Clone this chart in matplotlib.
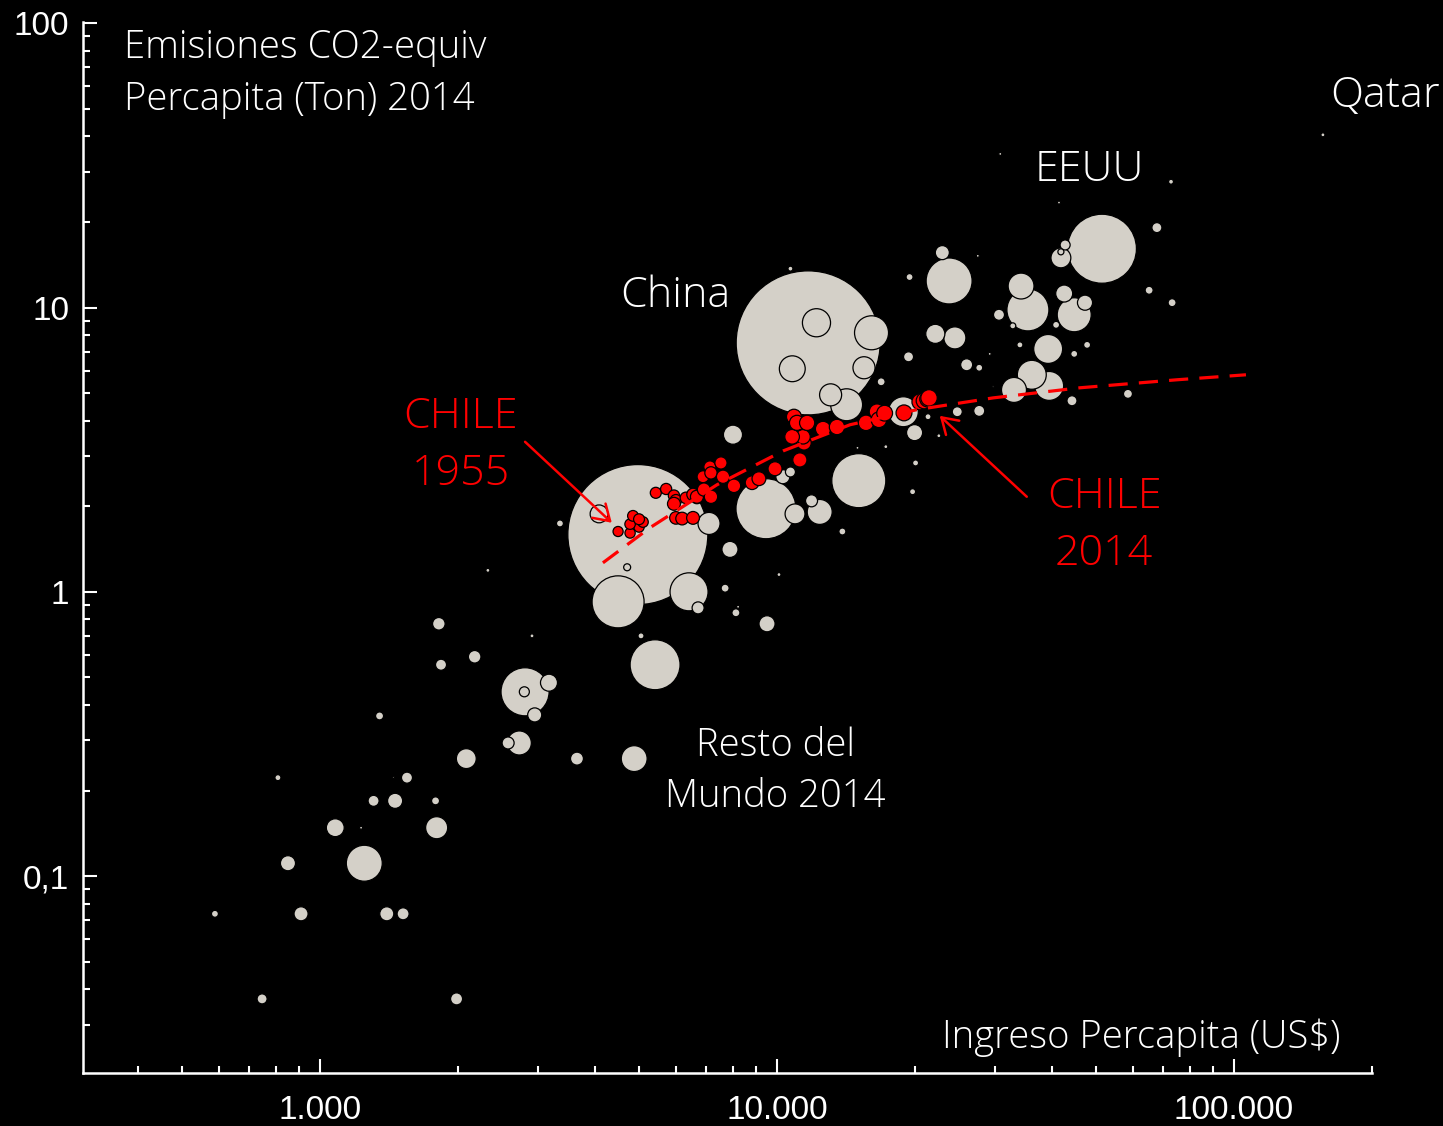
import numpy as np
import matplotlib
matplotlib.use("Agg")
import matplotlib.pyplot as plt
from matplotlib.ticker import FixedLocator, FixedFormatter, NullFormatter, LogLocator

# Resto del mundo 2014: ingreso per capita (US$), CO2-eq per capita (ton), poblacion (millones)
gdp = [11700, 4960, 51400, 9460, 15100, 4490, 5410, 2810, 23800, 35400,
       6420, 1250, 16100, 44700, 14200, 18900, 39200, 36100, 39400, 12200,
       10800, 4870, 34200, 33000, 12400, 2730, 7100, 1800, 24500, 15500,
       13100, 41800, 10950, 2090, 8010, 22200, 4080, 1080, 3170, 42500,
       20000, 7890, 9510, 1460, 851, 47200, 2950, 909, 1400, 10300,
       23000, 2180, 1820, 1990, 1520, 2580, 11900, 6720, 3650, 27700,
       30600, 26000, 1550, 1310, 1840, 42700, 67800, 24800, 44200, 19400,
       747, 2800, 58600, 10700, 13900, 1350, 1790, 7700, 8130, 16900,
       65200, 73200, 44700, 40800, 47700, 19500, 3350, 589, 4700, 27700,
       5040, 20100, 19800, 34000, 21400, 809, 32800, 41800, 10700, 72800,
       2910, 2330, 10100, 22600, 156500, 17300, 30800, 27500, 41400, 29200,
       1230, 8220, 1450, 91800, 29700, 15000]
co2 = [7.51, 1.59, 16.1, 1.96, 2.46, 0.922, 0.554, 0.445, 12.4, 9.81,
       1.0, 0.111, 8.15, 9.43, 4.55, 4.30, 7.15, 5.80, 5.30, 8.84,
       6.09, 0.259, 11.9, 5.13, 1.91, 0.294, 1.74, 0.148, 7.82, 6.14,
       4.93, 14.95, 1.88, 0.259, 3.57, 8.08, 1.88, 0.148, 0.479, 11.2,
       3.63, 1.41, 0.772, 0.184, 0.111, 10.4, 0.369, 0.0737, 0.0737, 2.54,
       15.6, 0.591, 0.772, 0.0370, 0.0737, 0.294, 2.09, 0.878, 0.259, 4.33,
       9.43, 6.29, 0.222, 0.184, 0.554, 16.6, 19.1, 4.30, 4.70, 6.71,
       0.0370, 0.445, 4.97, 2.64, 1.63, 0.366, 0.184, 1.03, 0.844, 5.48,
       11.5, 10.4, 6.87, 8.69, 7.39, 12.8, 1.74, 0.0737, 1.22, 6.14,
       0.700, 2.84, 2.25, 7.39, 4.13, 0.222, 8.62, 15.7, 13.7, 27.7,
       0.700, 1.19, 1.15, 3.54, 40.5, 3.24, 34.7, 15.2, 23.4, 6.87,
       0.148, 0.886, 0.222, 18.6, 5.26, 3.21]
pop = [1364, 1289, 313, 237, 192, 178, 164, 152, 139, 116,
       95, 85, 76, 76, 67, 59, 55, 55, 55, 52,
       44, 44, 44, 41, 41, 38, 32, 32, 32, 32,
       32, 26, 26, 26, 24, 24, 21, 21, 19, 19,
       17, 17, 17, 15, 15, 15, 13, 13, 13, 13,
       13, 10.4, 10.4, 9.5, 9.5, 9.5, 9.5, 9.5, 11, 8,
       8, 9.5, 8, 8, 8, 6.6, 6.6, 6.6, 6.6, 6.6,
       6.6, 6.6, 5.3, 6.6, 3.2, 4.2, 4.2, 4.2, 4.2, 4.2,
       4.2, 4.2, 3.2, 3.2, 3.2, 3.2, 3.2, 3.2, 3.2, 3.2,
       2.4, 2.4, 2.4, 2.4, 2.4, 2.4, 2.4, 2.4, 1.6, 1.6,
       1.05, 1.05, 1.05, 1.05, 1.05, 1.05, 0.6, 0.6, 0.6, 0.6,
       0.6, 0.6, 0.26, 0.17, 0.26, 0.6]

# Chile 1955 -> 2014
chile_gdp = [4490, 4770, 4990, 4770, 5090, 4840, 4990, 5430, 5720, 5950,
             6010, 6320, 6680, 6920, 6890, 7130, 7540, 7170, 6550, 6010,
             6200, 6550, 5950, 6680, 6920, 7620, 7170, 8050, 8820, 9130,
             9900, 11220, 11460, 11400, 10790, 11110, 10890, 11060, 11640, 12610,
             13530, 15660, 16550, 16710, 17200, 18960, 20550, 21000, 21390, 21510]
chile_co2 = [1.63, 1.61, 1.69, 1.73, 1.76, 1.85, 1.80, 2.23, 2.30, 2.18,
             2.10, 2.14, 2.14, 2.29, 2.54, 2.75, 2.84, 2.62, 2.20, 1.82,
             1.81, 1.82, 2.04, 2.16, 2.29, 2.54, 2.16, 2.36, 2.42, 2.50,
             2.71, 2.91, 3.34, 3.51, 3.51, 3.93, 4.13, 3.93, 3.93, 3.74,
             3.80, 3.93, 4.30, 4.03, 4.25, 4.26, 4.66, 4.70, 4.77, 4.81]
chile_pop = [6.7, 6.9, 7.0, 7.2, 7.4, 7.6, 7.8, 8.0, 8.2, 8.4,
             8.6, 8.8, 9.0, 9.2, 9.4, 9.6, 9.8, 10.0, 10.2, 10.4,
             10.6, 10.8, 11.0, 11.2, 11.4, 11.6, 11.8, 12.0, 12.3, 12.6,
             12.9, 13.2, 13.5, 13.8, 14.1, 14.4, 14.7, 15.0, 15.2, 15.4,
             15.6, 15.8, 16.0, 16.2, 16.4, 16.6, 16.9, 17.2, 17.5, 17.8]

# tendencia (linea punteada)
trend_gdp = [4160, 5270, 7390, 10310, 14450, 20200, 29700, 46000, 75000, 106200]
trend_co2 = [1.265, 1.68, 2.38, 3.13, 3.87, 4.37, 4.81, 5.22, 5.57, 5.80]

x_ticks = [1000, 10000, 100000]
x_labels = ["1.000", "10.000", "100.000"]
y_ticks = [0.1, 1, 10, 100]
y_labels = ["0,1", "1", "10", "100"]

W, H = 1443, 1126
fig = plt.figure(figsize=(W / 100, H / 100), dpi=100, facecolor="black")
ax = fig.add_axes([83 / W, 1 - 1073 / H, (1372 - 83) / W, (1073 - 22) / H])
ax.set_facecolor("black")
ax.set_xscale("log")
ax.set_yscale("log")
ax.set_xlim(303, 200400)
ax.set_ylim(0.0203, 101)

# tamaño de burbuja proporcional a la poblacion (China ~ 72 px de radio)
k = (2 * 72 * 0.72) ** 2 / 1364

order = np.argsort(pop)[::-1]
g = np.array(gdp)[order]
c = np.array(co2)[order]
p = np.array(pop)[order]
ax.scatter(g, c, s=p * k, color="#d4d0c8", edgecolors="black", linewidths=0.9, zorder=2)

ax.scatter(chile_gdp, chile_co2, s=np.array(chile_pop) * k, color="#ff0000",
           edgecolors="black", linewidths=0.9, zorder=3)

ax.plot(trend_gdp, trend_co2, color="#ff0000", lw=2.3, dashes=(6, 3.5), zorder=4)

# ejes
for side in ["top", "right"]:
    ax.spines[side].set_visible(False)
for side in ["left", "bottom"]:
    ax.spines[side].set_color("white")
    ax.spines[side].set_linewidth(1.8)

ax.xaxis.set_major_locator(FixedLocator(x_ticks))
ax.xaxis.set_major_formatter(FixedFormatter(x_labels))
ax.yaxis.set_major_locator(FixedLocator(y_ticks))
ax.yaxis.set_major_formatter(FixedFormatter(y_labels))
ax.xaxis.set_minor_locator(LogLocator(base=10, subs=np.arange(2, 10)))
ax.yaxis.set_minor_locator(LogLocator(base=10, subs=np.arange(2, 10)))
ax.xaxis.set_minor_formatter(NullFormatter())
ax.yaxis.set_minor_formatter(NullFormatter())

ax.tick_params(which="both", direction="in", colors="white", width=1.5)
ax.tick_params(which="major", length=10)
ax.tick_params(which="minor", length=5)
ax.tick_params(axis="y", which="major", pad=10)
ax.tick_params(axis="x", which="major", pad=16)
for lab in ax.get_xticklabels() + ax.get_yticklabels():
    lab.set_fontfamily("Liberation Sans")
    lab.set_fontsize(24)
    lab.set_color("white")

# textos
fam = ["Open Sans", "DejaVu Sans"]
txt = dict(color="white", fontsize=27.5, family=fam, fontweight="light")
big = dict(color="white", fontsize=31, family=fam, fontweight="light")
fig.text(124 / W, 1 - 48 / H, "Emisiones CO2-equiv", ha="left", va="center", **txt)
fig.text(124 / W, 1 - 100 / H, "Percapita (Ton) 2014", ha="left", va="center", **txt)
fig.text(1330 / W, 1 - 96 / H, "Qatar", ha="left", va="center", **big)
fig.text(1035 / W, 1 - 170 / H, "EEUU", ha="left", va="center", **big)
fig.text(620 / W, 1 - 296 / H, "China", ha="left", va="center", **big)
fig.text(775 / W, 1 - 746 / H, "Resto del", ha="center", va="center", **txt)
fig.text(775 / W, 1 - 797 / H, "Mundo 2014", ha="center", va="center", **txt)
fig.text(1341 / W, 1 - 1038 / H, "Ingreso Percapita (US$)", ha="right", va="center", **txt)

red = dict(color="#ff0000", fontsize=31, family=fam, fontweight="light")
fig.text(461 / W, 1 - 417 / H, "CHILE", ha="center", va="center", **red)
fig.text(461 / W, 1 - 474 / H, "1955", ha="center", va="center", **red)
fig.text(1104 / W, 1 - 497 / H, "CHILE", ha="center", va="center", **red)
fig.text(1104 / W, 1 - 554 / H, "2014", ha="center", va="center", **red)

arrow = dict(arrowstyle="->,head_length=0.55,head_width=0.35", color="#ff0000",
             lw=1.8, mutation_scale=20, shrinkA=0, shrinkB=0)
ax.annotate("", xy=(4350, 1.75), xytext=(2810, 3.37), arrowprops=arrow, zorder=5)
ax.annotate("", xy=(22700, 4.16), xytext=(35200, 2.16), arrowprops=arrow, zorder=5)

fig.savefig("out.png", dpi=100, facecolor="black")
